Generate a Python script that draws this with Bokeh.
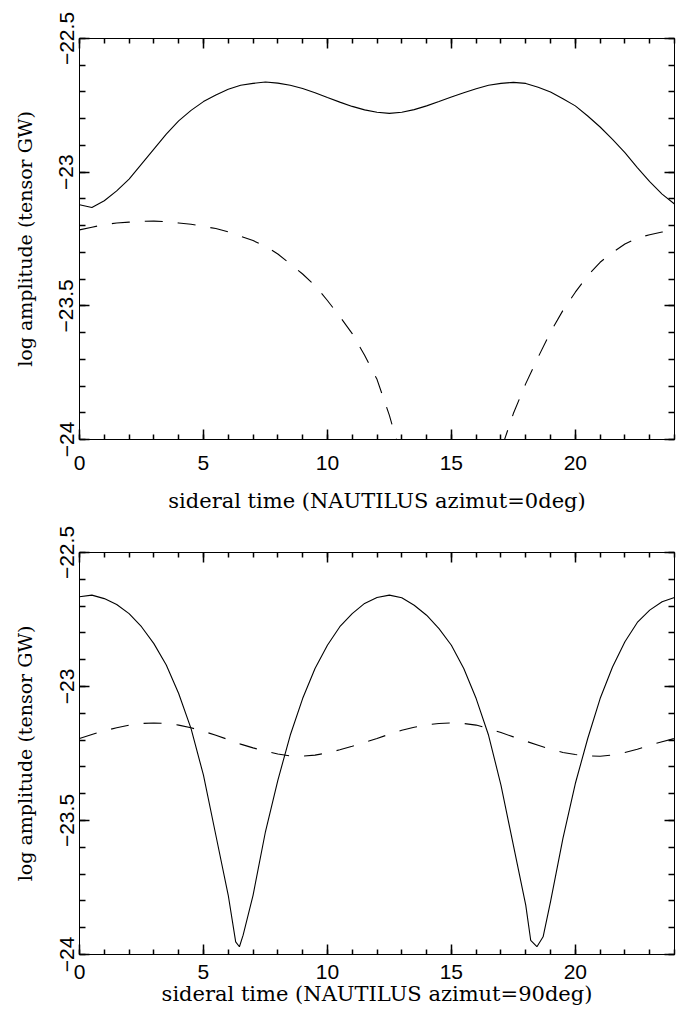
from bokeh.plotting import figure
from bokeh.layouts import column
from bokeh.models import (LinearAxis, SingleIntervalTicker, CustomJSTickFormatter, Range1d,
                          CustomLabelingPolicy)
from bokeh.embed import file_html
from bokeh.resources import INLINE

# ---------------- data ----------------
# Top panel: NAUTILUS azimut = 0 deg
top_solid_t = [0, 0.5, 1, 1.5, 2, 2.5, 3, 3.5, 4, 4.5, 5, 5.5, 6, 6.5, 7, 7.5, 8, 8.5, 9, 9.5,
               10, 10.5, 11, 11.5, 12, 12.5, 13, 13.5, 14, 14.5, 15, 15.5, 16, 16.5, 17, 17.5,
               18, 18.5, 19, 19.5, 20, 20.5, 21, 21.5, 22, 22.5, 23, 23.5, 24]
top_solid_y = [-23.122, -23.132, -23.107, -23.070, -23.026, -22.970, -22.914, -22.858, -22.808,
               -22.769, -22.736, -22.711, -22.690, -22.675, -22.668, -22.663, -22.667, -22.675,
               -22.687, -22.703, -22.721, -22.738, -22.754, -22.767, -22.776, -22.780, -22.776,
               -22.766, -22.752, -22.736, -22.719, -22.703, -22.688, -22.675, -22.668, -22.664,
               -22.668, -22.682, -22.700, -22.725, -22.752, -22.790, -22.831, -22.877, -22.927,
               -22.983, -23.035, -23.082, -23.119]

top_dash_t = [0, 0.5, 1, 1.5, 2, 2.5, 3, 3.5, 4, 4.5, 5, 5.5, 6, 6.5, 7, 7.5, 8, 8.5, 9, 9.5,
              10, 10.5, 11, 11.5, 12, 12.5, 13, 13.5, 16.5, 17, 17.5, 18, 18.5, 19, 19.5, 20,
              20.5, 21, 21.5, 22, 22.5, 23, 23.5, 24]
top_dash_y = [-23.216, -23.206, -23.196, -23.190, -23.187, -23.184, -23.183, -23.185, -23.190,
              -23.195, -23.203, -23.211, -23.223, -23.240, -23.256, -23.277, -23.306, -23.343,
              -23.381, -23.424, -23.480, -23.540, -23.604, -23.685, -23.775, -23.910, -24.070,
              -24.300, -24.300, -24.040, -23.903, -23.791, -23.692, -23.598, -23.517, -23.449,
              -23.387, -23.337, -23.300, -23.269, -23.246, -23.234, -23.224, -23.216]

# Bottom panel: NAUTILUS azimut = 90 deg
bot_solid_t = [0, 0.5, 1, 1.5, 2, 2.5, 3, 3.5, 4, 4.5, 5, 5.5, 6, 6.3, 6.45, 6.6, 7, 7.5, 8, 8.5,
               9, 9.5, 10, 10.5, 11, 11.5, 12, 12.5, 13, 13.5, 14, 14.5, 15, 15.5, 16, 16.5, 17,
               17.5, 18, 18.2, 18.45, 18.7, 19, 19.5, 20, 20.5, 21, 21.5, 22, 22.5, 23, 23.5, 24]
bot_solid_y = [-22.665, -22.659, -22.672, -22.694, -22.728, -22.777, -22.840, -22.920, -23.026,
               -23.157, -23.331, -23.555, -23.779, -23.953, -23.971, -23.928, -23.779, -23.542,
               -23.350, -23.182, -23.045, -22.933, -22.846, -22.777, -22.728, -22.690, -22.668,
               -22.659, -22.669, -22.697, -22.734, -22.784, -22.846, -22.933, -23.045, -23.182,
               -23.368, -23.592, -23.816, -23.947, -23.971, -23.934, -23.803, -23.567, -23.362,
               -23.194, -23.045, -22.927, -22.833, -22.761, -22.715, -22.684, -22.668]

bot_dash_t = [0, 0.5, 1, 1.5, 2, 2.5, 3, 3.5, 4, 4.5, 5, 5.5, 6, 6.5, 7, 7.5, 8, 8.5, 9, 9.5,
              10, 10.5, 11, 11.5, 12, 12.5, 13, 13.5, 14, 14.5, 15, 15.5, 16, 16.5, 17, 17.5,
              18, 18.5, 19, 19.5, 20, 20.5, 21, 21.5, 22, 22.5, 23, 23.5, 24]
bot_dash_y = [-23.194, -23.179, -23.165, -23.154, -23.144, -23.138, -23.136, -23.138, -23.144,
              -23.154, -23.167, -23.182, -23.198, -23.215, -23.229, -23.241, -23.252, -23.259,
              -23.260, -23.256, -23.248, -23.236, -23.223, -23.209, -23.194, -23.178, -23.163,
              -23.152, -23.143, -23.138, -23.136, -23.138, -23.144, -23.157, -23.172, -23.188,
              -23.204, -23.219, -23.234, -23.246, -23.254, -23.259, -23.260, -23.256, -23.246,
              -23.234, -23.219, -23.206, -23.194]

x_label_top = "sideral time (NAUTILUS azimut=0deg)"
x_label_bot = "sideral time (NAUTILUS azimut=90deg)"
y_label = "log amplitude (tensor GW)"

TICK_FONT = "Liberation Sans"
LABEL_FONT = "DejaVu Serif"
X0, X1, Y0, Y1 = 0, 24, -24, -22.5

minus_fmt = CustomJSTickFormatter(code="""
    const s = Math.abs(tick).toString();
    return (tick < 0 ? '\u2212' : '') + s;
""")


def style_ticks(ax, minor_in):
    ax.axis_line_color = "black"
    ax.axis_line_width = 1
    ax.major_tick_line_color = "black"
    ax.minor_tick_line_color = "black"
    ax.major_tick_line_width = 1.5
    ax.minor_tick_line_width = 1.5
    ax.major_tick_in = 10
    ax.major_tick_out = 0
    ax.minor_tick_in = minor_in
    ax.minor_tick_out = 0


def mirror_axis(p, interval, minor_in, side):
    # unlabelled copy of an axis, only for the inward ticks on the top / right edge
    ax = LinearAxis(ticker=SingleIntervalTicker(interval=interval, num_minor_ticks=5))
    style_ticks(ax, minor_in)
    ax.major_label_standoff = 0
    ax.major_label_text_font_size = "0px"
    ax.major_label_policy = CustomLabelingPolicy(code="return new Set();")
    ax.axis_label = None
    p.add_layout(ax, side)


def make_panel(st, sy, dt, dy, xlabel, height, b_top, b_bot, tick_standoff, lab_standoff):
    p = figure(width=691, height=height, output_backend="svg", toolbar_location=None,
               x_range=Range1d(X0, X1), y_range=Range1d(Y0, Y1),
               min_border_left=79, min_border_right=17, min_border_top=b_top,
               min_border_bottom=b_bot)
    p.xgrid.visible = False
    p.ygrid.visible = False
    p.outline_line_color = "black"
    p.outline_line_width = 1
    p.background_fill_color = "white"
    p.border_fill_color = "white"

    xa = p.xaxis[0]
    xa.ticker = SingleIntervalTicker(interval=5, num_minor_ticks=5)
    style_ticks(xa, 5)
    xa.major_label_text_font = TICK_FONT
    xa.major_label_text_font_size = "21px"
    xa.major_label_text_color = "black"
    xa.major_label_standoff = tick_standoff
    xa.axis_label = xlabel
    xa.axis_label_text_font = LABEL_FONT
    xa.axis_label_text_font_size = "21px"
    xa.axis_label_text_font_style = "normal"
    xa.axis_label_text_color = "black"
    xa.axis_label_standoff = lab_standoff

    ya = p.yaxis[0]
    ya.ticker = SingleIntervalTicker(interval=0.5, num_minor_ticks=5)
    ya.formatter = minus_fmt
    style_ticks(ya, 6)
    ya.major_label_orientation = "vertical"
    ya.major_label_text_font = TICK_FONT
    ya.major_label_text_font_size = "21px"
    ya.major_label_text_color = "black"
    ya.major_label_standoff = 6
    ya.axis_label = y_label
    ya.axis_label_text_font = LABEL_FONT
    ya.axis_label_text_font_size = "19px"
    ya.axis_label_text_font_style = "normal"
    ya.axis_label_text_color = "black"
    ya.axis_label_standoff = 21

    mirror_axis(p, 5, 5, "above")
    mirror_axis(p, 0.5, 6, "right")

    p.line(st, sy, line_color="black", line_width=1.1)
    p.line(dt, dy, line_color="black", line_width=1.1, line_dash="18 15")
    return p


p_top = make_panel(top_solid_t, top_solid_y, top_dash_t, top_dash_y, x_label_top,
                   height=520, b_top=38, b_bot=81, tick_standoff=16, lab_standoff=16)
p_bot = make_panel(bot_solid_t, bot_solid_y, bot_dash_t, bot_dash_y, x_label_bot,
                   height=512, b_top=32, b_bot=78, tick_standoff=10, lab_standoff=0)

layout = column(p_top, p_bot, spacing=0)
open("out.html", "w").write(file_html(layout, INLINE))
